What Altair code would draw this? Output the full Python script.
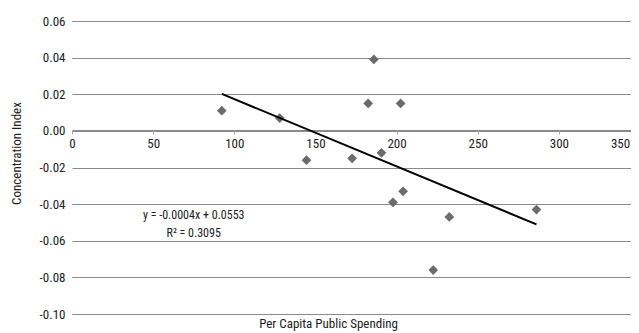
import altair as alt
import pandas as pd

# ---- data ----
spending = [92.3, 128.0, 144.5, 172.6, 190.7, 186.0, 182.5, 202.5, 197.8, 204.0, 232.5, 222.6, 286.2]
conc_index = [0.011, 0.007, -0.016, -0.015, -0.012, 0.039, 0.015, 0.015, -0.039, -0.033, -0.047, -0.076, -0.043]

x_ticks = [0, 50, 100, 150, 200, 250, 300, 350]
y_ticks = [-0.10, -0.08, -0.06, -0.04, -0.02, 0.00, 0.02, 0.04, 0.06]

eq_lines = ["y = -0.0004x + 0.0553", "R\u00b2 = 0.3095"]
eq_x = [75.0, 75.0]
eq_y = [-0.0459, -0.0555]

df = pd.DataFrame({"spending": spending, "ci": conc_index})
eq = pd.DataFrame({"label": eq_lines, "x": eq_x, "y": eq_y})

FONT = "'Roboto Condensed', 'DejaVu Sans Condensed', 'Liberation Sans Narrow', Roboto, sans-serif"
TXT = "#222222"
GRID = "#8a8a8a"

xscale = alt.Scale(domain=[0, 350], range=[0, 568], nice=False, zero=False)
yscale = alt.Scale(domain=[-0.10, 0.06], nice=False, zero=False)

xaxis = alt.Axis(
    values=x_ticks, tickCount=20, offset=-184, grid=False, title=None,
    tickSize=4, tickColor="#aaaaaa", domainColor=GRID, domainWidth=1,
    labelFont=FONT, labelFontSize=13, labelColor=TXT, labelPadding=3,
    format="d", labelFlush=False, labelOverlap=False, labelBound=False,
    labelOffset=alt.condition("datum.value == 350", alt.value(-20), alt.value(0)),
)
yaxis = alt.Axis(
    values=y_ticks, tickCount=20, grid=True, gridColor=GRID, gridWidth=1, gridOpacity=1,
    domain=False, ticks=False, labelOverlap=False,
    labelExpr="replace(format(datum.value, '.2f'), '\u2212', '-')",
    labelFont=FONT, labelFontSize=13, labelColor=TXT, labelPadding=7,
    title="Concentration Index", titleFont=FONT, titleFontSize=13,
    titleFontWeight="normal", titleColor=TXT, titleX=-49, titleY=132,
)

points = alt.Chart(df).mark_point(
    shape="diamond", filled=True, size=95, color="#6b6b6b", opacity=1
).encode(
    x=alt.X("spending:Q", scale=xscale, axis=xaxis),
    y=alt.Y("ci:Q", scale=yscale, axis=yaxis),
)

trend = alt.Chart(df).transform_regression("spending", "ci").mark_line(
    color="black", strokeWidth=2
).encode(
    x=alt.X("spending:Q", scale=xscale),
    y=alt.Y("ci:Q", scale=yscale),
)

text = alt.Chart(eq).mark_text(
    font=FONT, fontSize=12, color=TXT, baseline="middle", align="center"
).encode(
    x=alt.X("x:Q", scale=xscale),
    y=alt.Y("y:Q", scale=yscale),
    text="label:N",
)

chart = alt.layer(points, trend, text).properties(
    width=559,
    height=293,
    autosize=alt.AutoSizeParams(type="none"),
    padding={"left": 64, "top": 13, "right": 0, "bottom": 30},
    title=alt.TitleParams(
        "Per Capita Public Spending", orient="bottom", font=FONT, fontSize=13,
        fontWeight="normal", color=TXT, dx=-23, offset=-3,
    ),
).configure_view(stroke=None)

chart.save("out.html", embed_options={"renderer": "svg", "actions": False})
